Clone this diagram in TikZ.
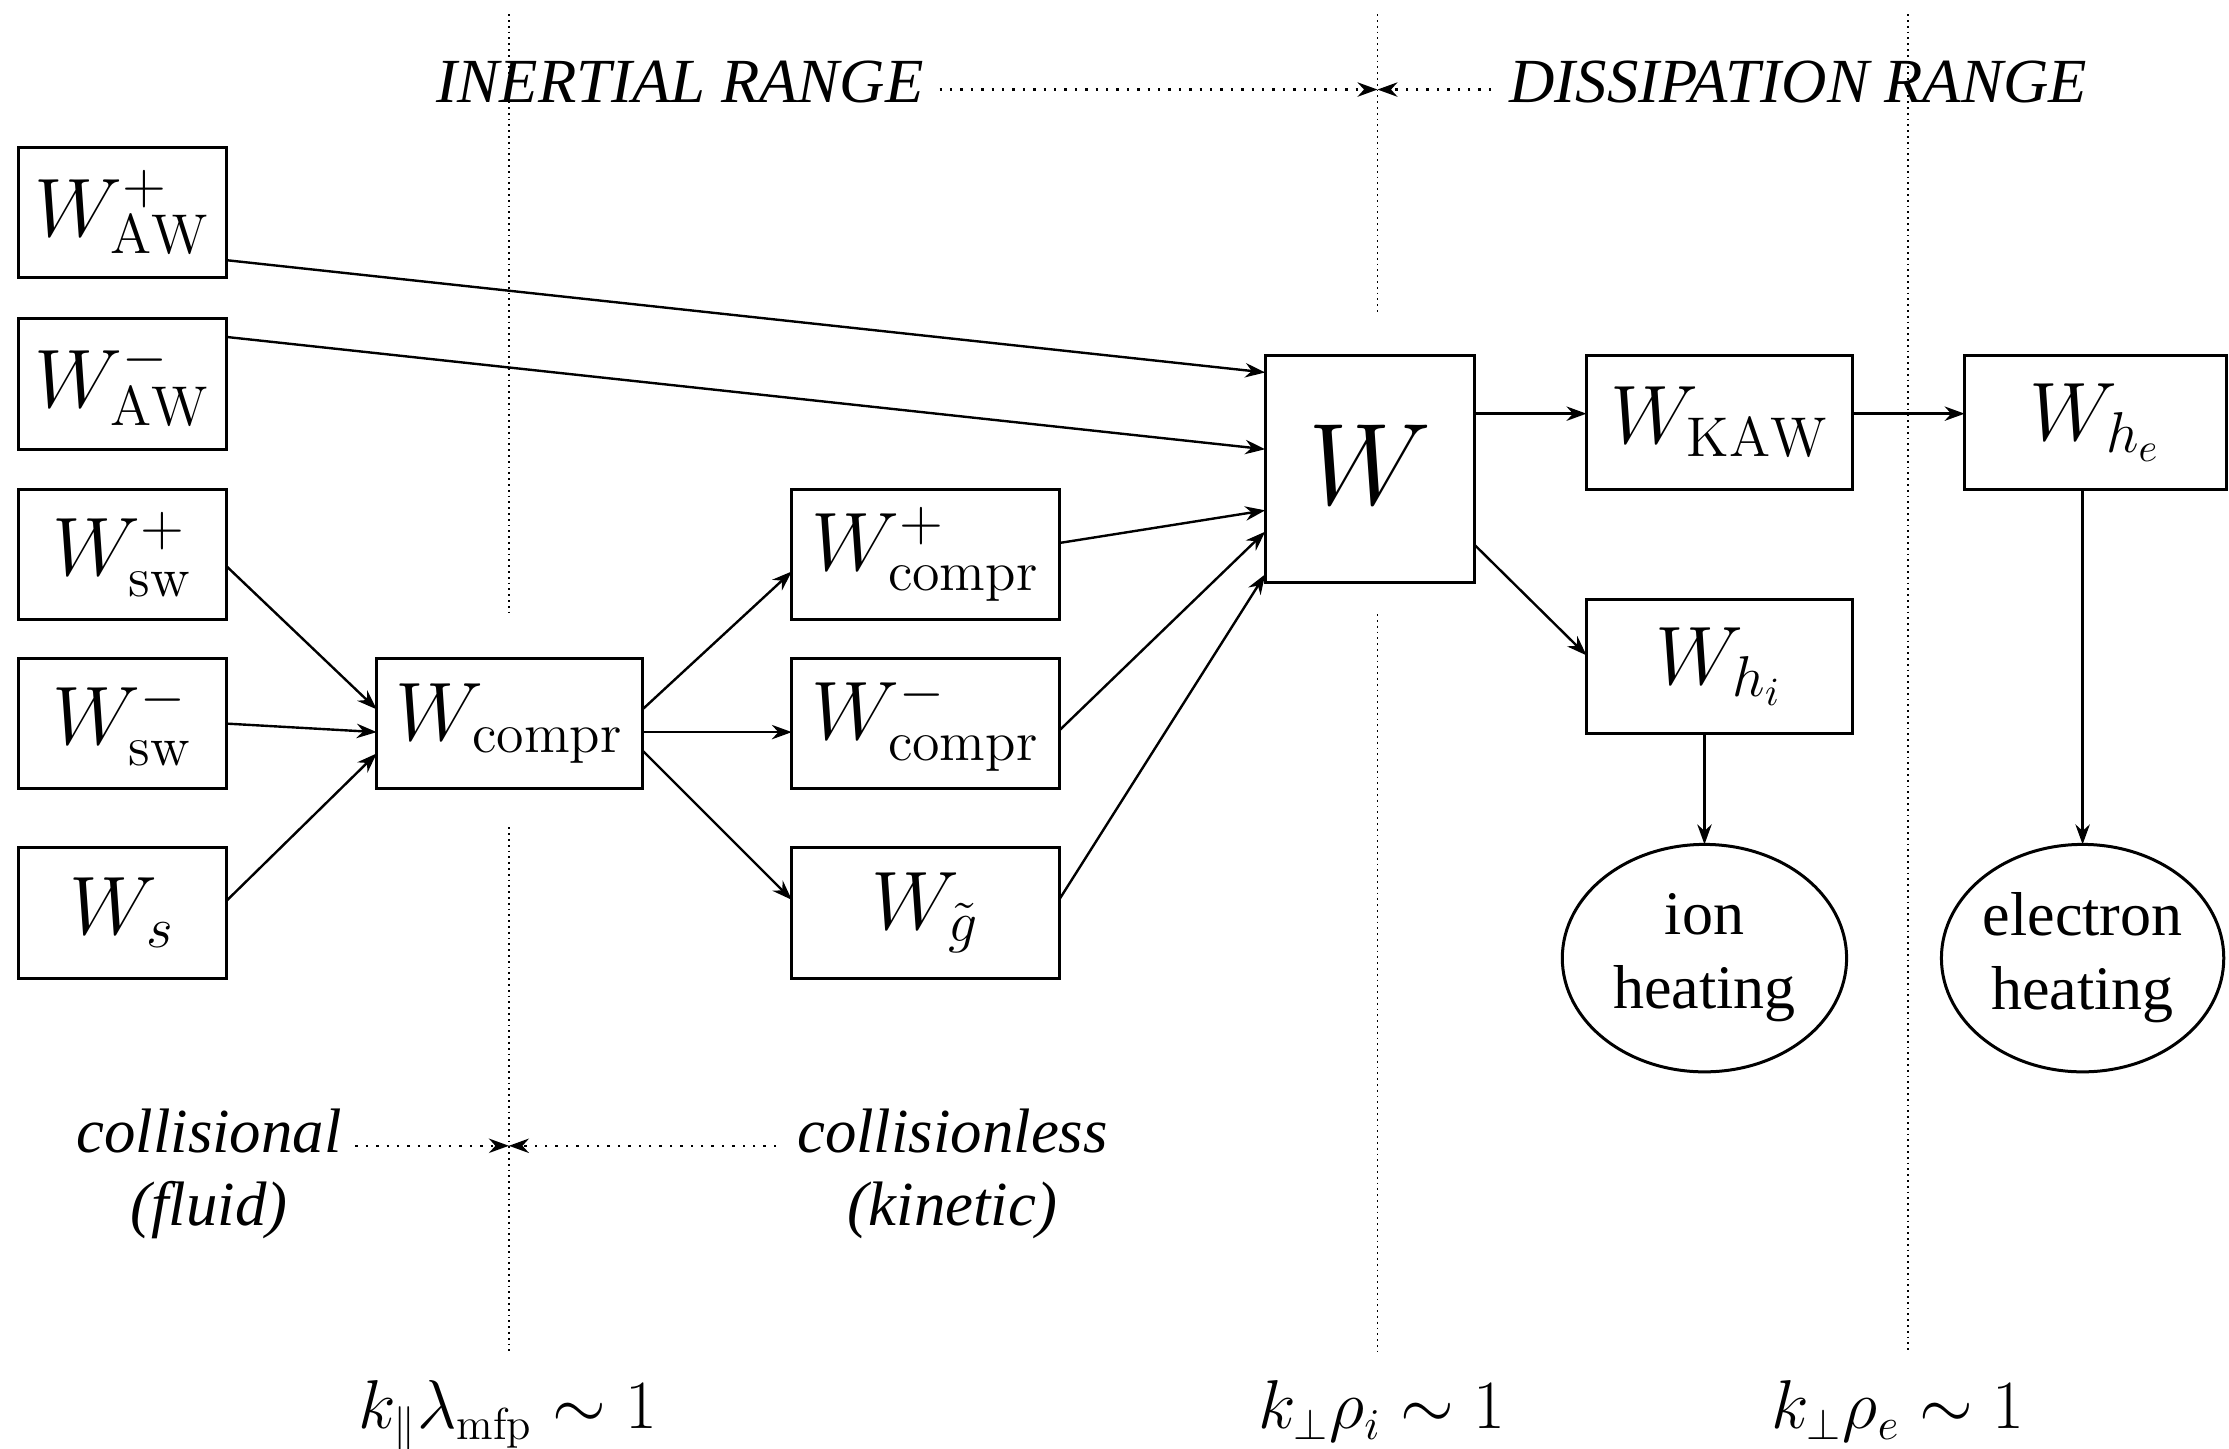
\documentclass[tikz,border=0pt]{standalone}
\usepackage{graphicx}
\usepackage{fontspec}
\newfontfamily\tms{Liberation Serif}
\usetikzlibrary{arrows.meta,shapes.geometric}
\begin{document}
\begin{tikzpicture}[x=0.3554pt,y=-0.3554pt,
  wbox/.style={draw,line width=0.75pt,inner sep=0pt,outer sep=0pt,font=\fontsize{20}{24}\selectfont},
  sbox/.style={wbox,minimum width=146*0.3554pt,minimum height=92*0.3554pt},
  mbox/.style={wbox,minimum width=187*0.3554pt,minimum height=92*0.3554pt},
  heat/.style={draw,ellipse,line width=0.75pt,inner sep=0pt,outer sep=0pt,align=center,
    font=\tms\fontsize{15.5}{18.5}\selectfont},
  arr/.style={line width=0.6pt,-{Stealth[length=5pt,width=3.6pt]}},
  guide/.style={densely dotted,line width=0.45pt},
  hdot/.style={dotted,line width=0.6pt,-{Stealth[length=5pt,width=3.6pt]}},
  lab/.style={font=\tms\itshape\fontsize{15.7}{18}\selectfont,inner sep=1pt},
  mlab/.style={font=\fontsize{16}{19}\selectfont,inner sep=0pt}]
\useasboundingbox (0,0) rectangle (1568,1019);
% guide lines
\draw[guide] (358,10) -- (358,433);
\draw[guide] (358,582) -- (358,951);
\draw[guide] (969,10) -- (969,220);
\draw[guide] (969,432) -- (969,951);
\draw[guide] (1342,10) -- (1342,951);
% boxes
\node[sbox] (awp) at (86,149.5) {$W^+_{\rm AW}$};
\node[sbox] (awm) at (86,270) {$W^-_{\rm AW}$};
\node[sbox] (swp) at (86,390) {$W^+_{\rm sw}$};
\node[sbox] (swm) at (86,509) {$W^-_{\rm sw}$};
\node[sbox] (ws) at (86,642) {$W_s$};
\node[mbox] (wc) at (358.5,509) {$W_{\rm compr}$};
\node[mbox,minimum width=188*0.3554pt] (wcp) at (651,390) {$W^+_{\rm compr}$};
\node[mbox,minimum width=188*0.3554pt] (wcm) at (651,509) {$W^-_{\rm compr}$};
\node[mbox,minimum width=188*0.3554pt] (wg) at (651,642) {$W_{\tilde g}$};
\node[wbox,minimum width=147*0.3554pt,minimum height=160*0.3554pt] (W) at (963.5,330) {\raisebox{2.3pt}{\scalebox{1.4}{$W$}}};
\node[mbox,minimum height=94*0.3554pt] (kaw) at (1209.5,297) {$W_{\rm KAW}$};
\node[mbox,minimum width=184*0.3554pt,minimum height=94*0.3554pt] (whe) at (1474,297) {$W_{h_e}$};
\node[mbox,minimum height=94*0.3554pt] (whi) at (1209.5,469) {$W_{h_i}$};
\node[heat,minimum width=200*0.3554pt,minimum height=160*0.3554pt] (ion) at (1199,674) {ion\\heating};
\node[heat,minimum width=198*0.3554pt,minimum height=160*0.3554pt] (ele) at (1465,674) {electron\\heating};
% arrows into W
\draw[arr] (awp.east |- 0,183) -- (W.west |- 0,262);
\draw[arr] (awm.east |- 0,237) -- (W.west |- 0,316);
\draw[arr] (wcp.east |- 0,382) -- (W.west |- 0,359);
\draw[arr] (wcm.east |- 0,514) -- (W.west |- 0,374);
\draw[arr] (wg.east |- 0,633) -- (W.west |- 0,404);
% into W_compr
\draw[arr] (swp.east |- 0,398) -- (wc.west |- 0,499);
\draw[arr] (swm.east) -- (wc.west |- 0,515);
\draw[arr] (ws.east |- 0,634) -- (wc.west |- 0,530);
% out of W_compr
\draw[arr] (wc.east |- 0,499) -- (wcp.west |- 0,402);
\draw[arr] (wc.east |- 0,515) -- (wcm.west |- 0,515);
\draw[arr] (wc.east |- 0,528) -- (wg.west |- 0,633);
% dissipation side
\draw[arr] (W.east |- 0,291) -- (kaw.west |- 0,291);
\draw[arr] (kaw.east |- 0,291) -- (whe.west |- 0,291);
\draw[arr] (W.east |- 0,383) -- (whi.west |- 0,461);
\draw[arr] (whi.south -| ion.north) -- (ion.north);
\draw[arr] (whe.south -| ele.north) -- (ele.north);
% range labels
\node[lab,anchor=base] (inr) at (478.5,72) {INERTIAL RANGE};
\node[lab,anchor=base] (dis) at (1265,72) {DISSIPATION RANGE};
\coordinate (mt) at (969,63);
\draw[hdot] (661,63) -- (mt);
\draw[hdot] (1049,63) -- (mt);
\node[lab,anchor=base] (col) at (147,811) {collisional};
\node[lab,anchor=base] (flu) at (147,862) {(fluid)};
\node[lab,anchor=base] (cln) at (670,811) {collisionless};
\node[lab,anchor=base] (kin) at (670,862) {(kinetic)};
\coordinate (mb) at (358,806);
\draw[hdot] (250,806) -- (mb);
\draw[hdot] (546,806) -- (mb);
% scale labels
\node[mlab,anchor=base] (l1) at (357,1005) {$k_\parallel\lambda_{\rm mfp}\sim 1$};
\node[mlab,anchor=base] (l2) at (972,1005) {$k_\perp\rho_i\sim 1$};
\node[mlab,anchor=base] (l3) at (1335,1005) {$k_\perp\rho_e\sim 1$};
\end{tikzpicture}
\end{document}
